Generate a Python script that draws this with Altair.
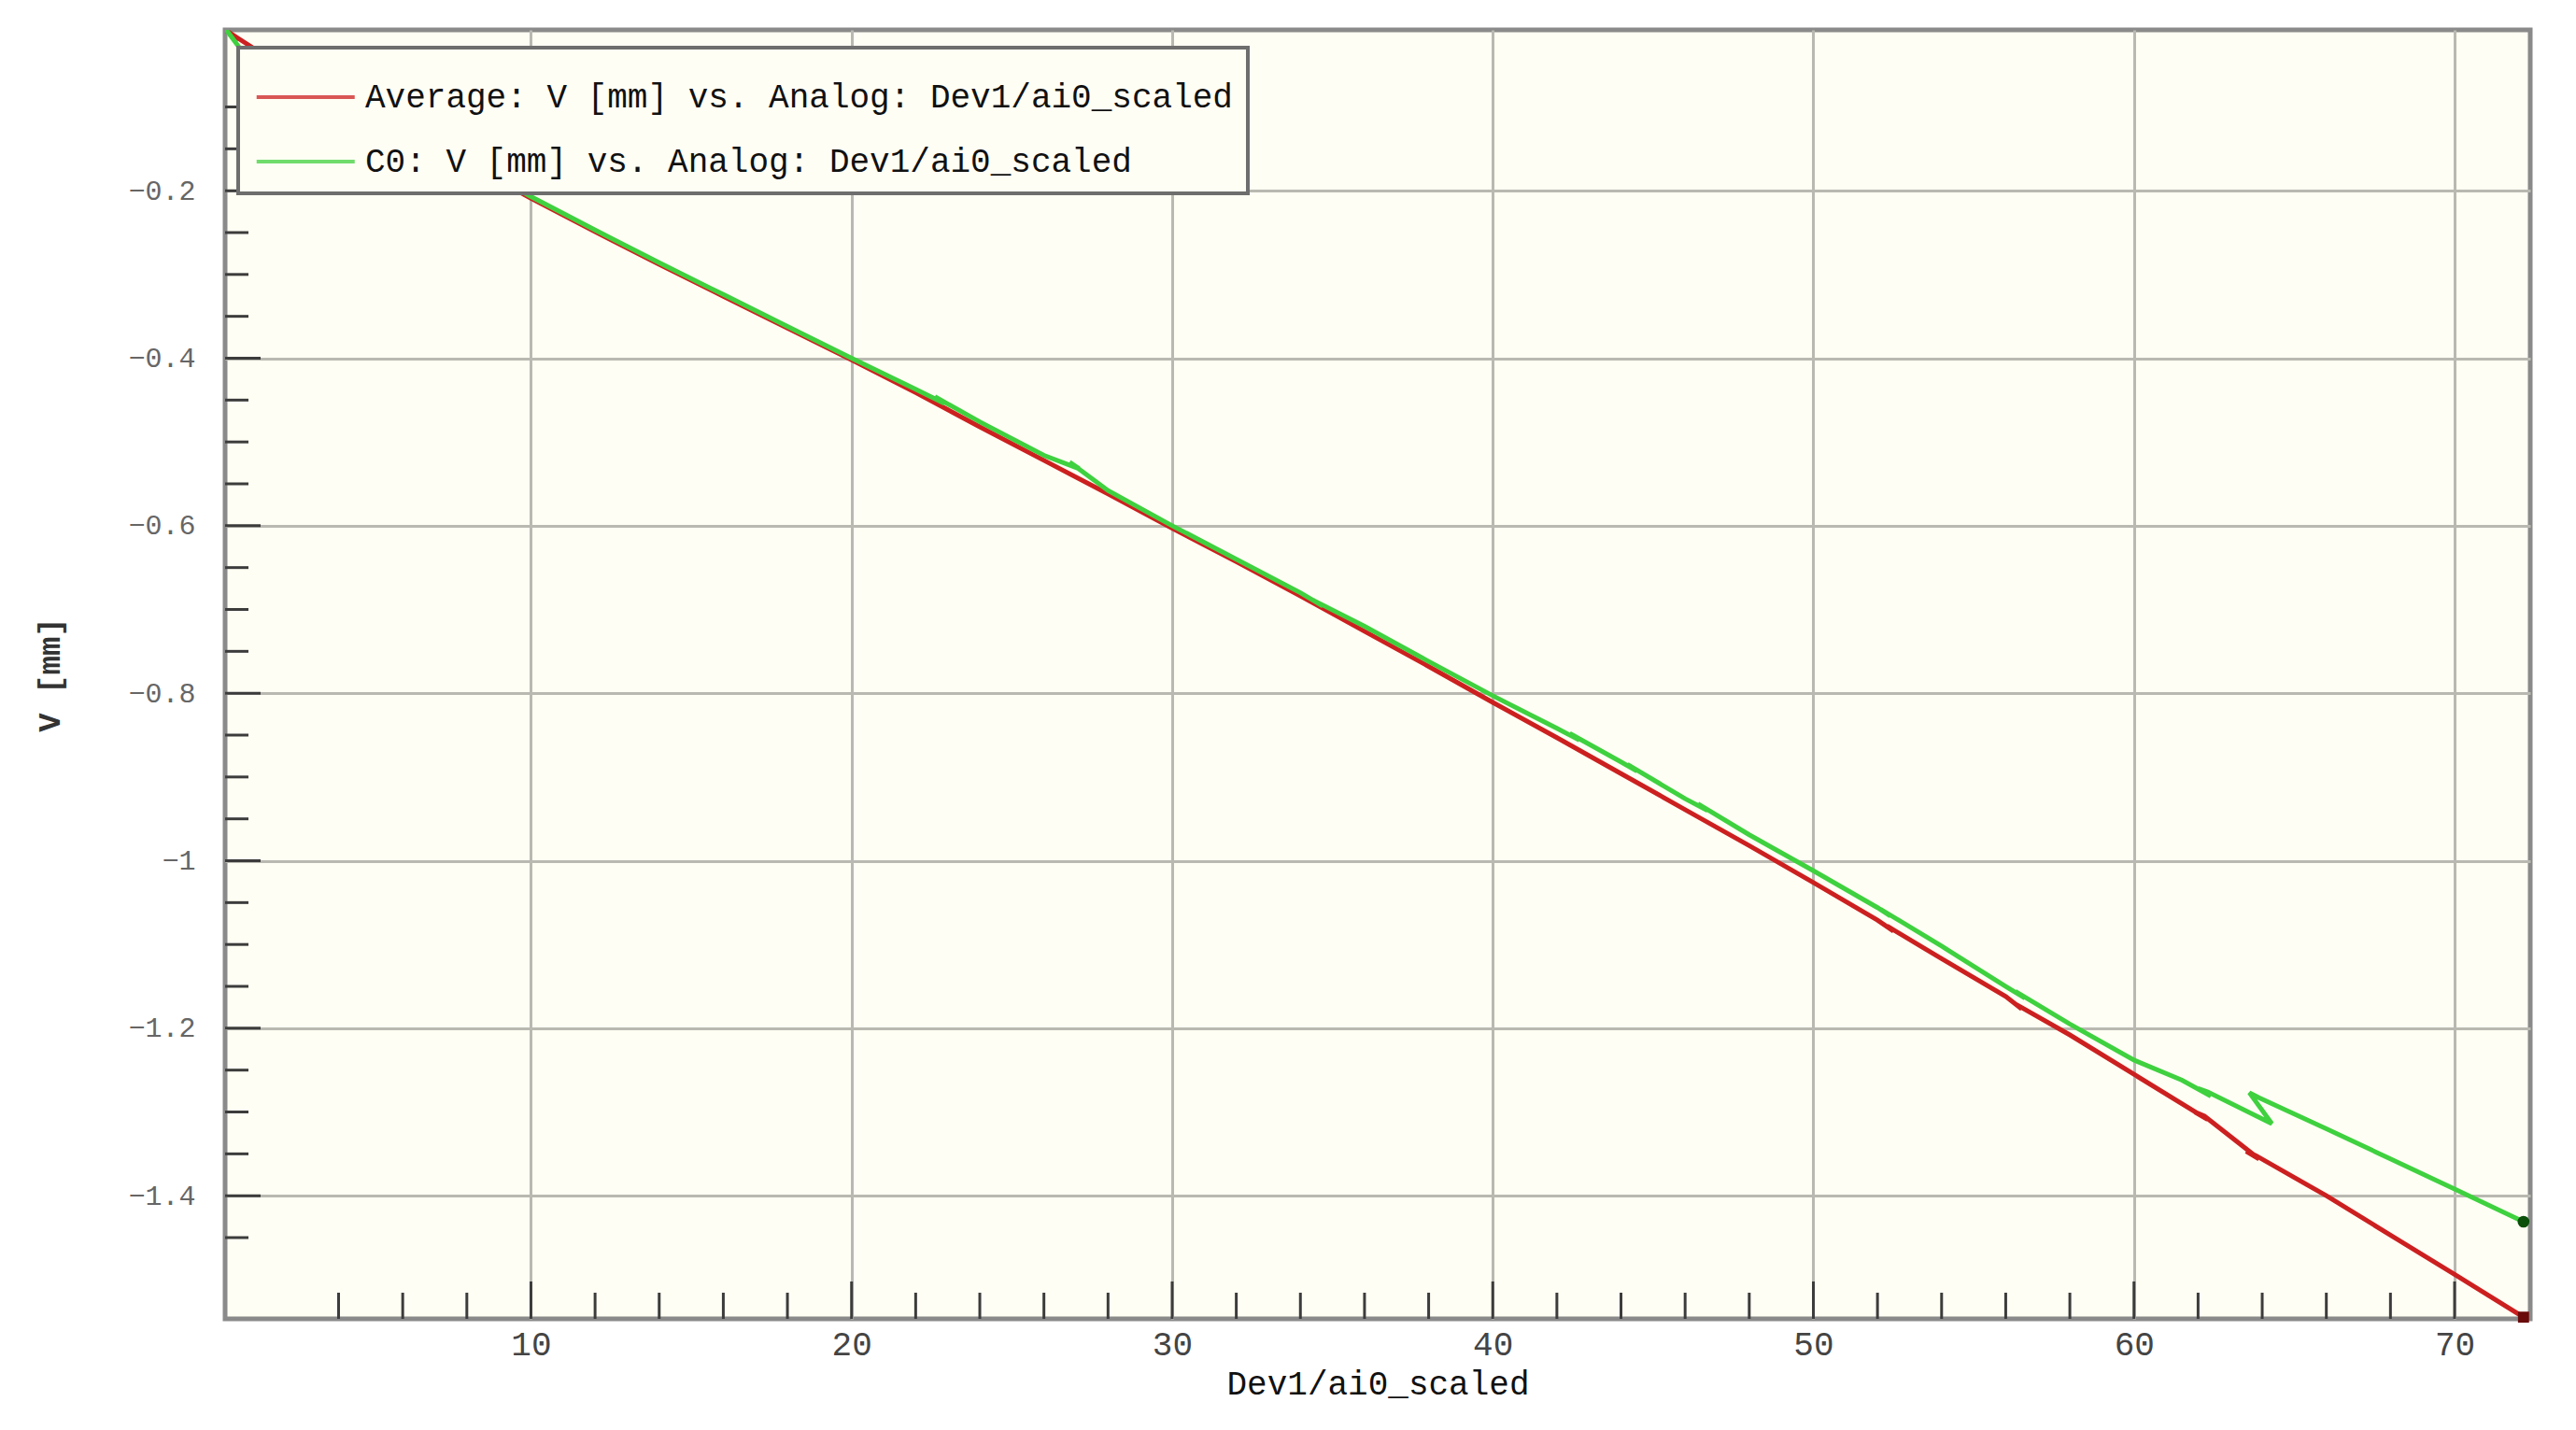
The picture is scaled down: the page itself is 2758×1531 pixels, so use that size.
import altair as alt
import pandas as pd

# ---------------- data ----------------
SERIES_AVG = "Average: V [mm] vs. Analog: Dev1/ai0_scaled"
SERIES_C0 = "C0: V [mm] vs. Analog: Dev1/ai0_scaled"

avg_x = [0.46, 2.0, 4.0, 6.0, 8.0, 10.0, 12.0, 14.0, 16.0, 18.0, 20.0, 22.0, 24.0, 26.0,
         28.0, 30.0, 32.0, 34.0, 36.0, 38.0, 40.0, 42.0, 44.0, 46.0, 48.0, 50.0, 52.0,
         52.5, 52.3, 54.0, 56.0, 56.5, 56.3, 58.0, 60.0, 62.3, 61.9, 62.2, 63.9, 63.5,
         63.8, 66.0, 68.0, 70.0, 72.15]
avg_y = [-0.008, -0.046, -0.086, -0.127, -0.167, -0.209, -0.249, -0.288, -0.326, -0.364,
         -0.402, -0.441, -0.482, -0.522, -0.562, -0.603, -0.643, -0.684, -0.726, -0.768,
         -0.811, -0.853, -0.896, -0.939, -0.982, -1.026, -1.071, -1.084, -1.078, -1.117,
         -1.162, -1.177, -1.171, -1.208, -1.255, -1.309, -1.300, -1.305, -1.356, -1.347,
         -1.352, -1.400, -1.447, -1.494, -1.545]

c0_x = [0.46, 1.5, 1.95, 2.6, 2.95, 3.4, 6.0, 8.0, 10.0, 12.0, 14.0, 16.0, 18.0, 20.0,
        22.0, 22.9, 22.6, 24.0, 26.0, 27.1, 26.8, 28.0, 30.0, 32.0, 34.0, 34.7, 34.4,
        36.0, 38.0, 40.0, 42.0, 42.7, 42.4, 44.0, 44.5, 44.2, 46.0, 46.7, 46.4, 48.0,
        50.0, 52.0, 52.4, 52.1, 54.0, 56.0, 56.6, 56.3, 58.0, 60.0, 61.5, 62.4, 62.0,
        62.3, 64.3, 63.6, 63.9, 66.0, 68.0, 70.0, 72.15]
c0_y = [-0.006, -0.060, -0.051, -0.067, -0.060, -0.084, -0.125, -0.165, -0.207, -0.247,
        -0.286, -0.324, -0.362, -0.400, -0.437, -0.454, -0.446, -0.476, -0.516, -0.532,
        -0.524, -0.558, -0.600, -0.640, -0.680, -0.696, -0.689, -0.720, -0.762, -0.803,
        -0.842, -0.856, -0.848, -0.882, -0.893, -0.885, -0.926, -0.940, -0.932, -0.969,
        -1.012, -1.056, -1.066, -1.058, -1.102, -1.150, -1.164, -1.156, -1.195, -1.238,
        -1.262, -1.281, -1.272, -1.276, -1.314, -1.277, -1.283, -1.320, -1.356, -1.392,
        -1.431]

x_major = [10, 20, 30, 40, 50, 60, 70]
x_minor = [4, 6, 8, 12, 14, 16, 18, 22, 24, 26, 28, 32, 34, 36, 38, 42, 44, 46, 48,
           52, 54, 56, 58, 62, 64, 66, 68]
y_major = [-0.2, -0.4, -0.6, -0.8, -1.0, -1.2, -1.4]
y_minor = [-0.1, -0.15, -0.25, -0.3, -0.35, -0.45, -0.5, -0.55, -0.65, -0.7, -0.75,
           -0.85, -0.9, -0.95, -1.05, -1.1, -1.15, -1.25, -1.3, -1.35, -1.45]

# ---------------- tables ----------------
rows = []
for i, (xv, yv) in enumerate(zip(avg_x, avg_y)):
    rows.append({"x": xv, "V": yv, "series": SERIES_AVG, "idx": i})
for i, (xv, yv) in enumerate(zip(c0_x, c0_y)):
    rows.append({"x": xv, "V": yv, "series": SERIES_C0, "idx": i})
df = pd.DataFrame(rows)

end_avg = pd.DataFrame({"x": [avg_x[-1]], "V": [avg_y[-1]]})
end_c0 = pd.DataFrame({"x": [c0_x[-1]], "V": [c0_y[-1]]})

W, H = 2468, 1380
FONT = "Liberation Mono"

xscale = alt.Scale(domain=[0.46, 72.36], nice=False, zero=False)
yscale = alt.Scale(domain=[-1.547, -0.008], nice=False, zero=False)

xaxis = alt.Axis(values=x_major, grid=True, ticks=False, domain=False,
                 labelFont=FONT, labelFontSize=36, labelColor="#444444",
                 labelPadding=10, title="Dev1/ai0_scaled", titleFont=FONT,
                 titleFontSize=36, titleFontWeight="normal",
                 titleColor="#111111", titleBaseline="middle", titleY=69)
yaxis = alt.Axis(values=y_major, grid=True, ticks=False, domain=False,
                 format=".2~f", labelFont=FONT, labelFontSize=30,
                 labelColor="#666666", labelPadding=32, title="V [mm]",
                 titleFont=FONT, titleFontSize=34, titleFontWeight="bold",
                 titleColor="#333333", titleX=-188, titleY=690,
                 titleAlign="center", titleBaseline="middle")

lines = alt.Chart(df).mark_line(strokeWidth=5, clip=True).encode(
    x=alt.X("x:Q", scale=xscale, axis=xaxis, title="Dev1/ai0_scaled"),
    y=alt.Y("V:Q", scale=yscale, axis=yaxis, title="V [mm]"),
    color=alt.Color("series:N",
                    scale=alt.Scale(domain=[SERIES_AVG, SERIES_C0],
                                    range=["#cc2020", "#3fd13f"]),
                    title=None),
    order=alt.Order("idx:Q"),
)

pt_avg = alt.Chart(end_avg).mark_point(filled=True, shape="square", size=140,
                                       color="#6a0a0a", opacity=1).encode(
    x=alt.X("x:Q", scale=xscale, axis=xaxis, title="Dev1/ai0_scaled"),
    y=alt.Y("V:Q", scale=yscale, axis=yaxis, title="V [mm]"))
pt_c0 = alt.Chart(end_c0).mark_point(filled=True, shape="circle", size=160,
                                     color="#0b4f0b", opacity=1).encode(
    x=alt.X("x:Q", scale=xscale, axis=xaxis, title="Dev1/ai0_scaled"),
    y=alt.Y("V:Q", scale=yscale, axis=yaxis, title="V [mm]"))

tick_color = "#3c3c3c"
ymin_df = pd.DataFrame({"V": y_minor})
ymaj_df = pd.DataFrame({"V": y_major})
xmin_df = pd.DataFrame({"x": x_minor})
xmaj_df = pd.DataFrame({"x": x_major})

ymin_r = alt.Chart(ymin_df).mark_rule(color=tick_color, strokeWidth=3).encode(
    y=alt.Y("V:Q", scale=yscale, axis=yaxis, title="V [mm]"),
    x=alt.value(0), x2=alt.value(25))
ymaj_r = alt.Chart(ymaj_df).mark_rule(color=tick_color, strokeWidth=3).encode(
    y=alt.Y("V:Q", scale=yscale, axis=yaxis, title="V [mm]"),
    x=alt.value(0), x2=alt.value(38))
xmin_r = alt.Chart(xmin_df).mark_rule(color=tick_color, strokeWidth=3).encode(
    x=alt.X("x:Q", scale=xscale, axis=xaxis, title="Dev1/ai0_scaled"),
    y=alt.value(H), y2=alt.value(H - 28))
xmaj_r = alt.Chart(xmaj_df).mark_rule(color=tick_color, strokeWidth=3).encode(
    x=alt.X("x:Q", scale=xscale, axis=xaxis, title="Dev1/ai0_scaled"),
    y=alt.value(H), y2=alt.value(H - 40))

chart = alt.layer(lines, ymin_r, ymaj_r, xmin_r, xmaj_r, pt_avg, pt_c0).properties(
    width=W, height=H,
    autosize=alt.AutoSizeParams(type="none"),
    padding={"left": 233, "top": 24, "right": 40, "bottom": 110},
    background="white",
).configure_view(
    fill="#fffef4", stroke="#8a8a8a", strokeWidth=5,
).configure_axis(
    gridColor="#b9b9b1", gridWidth=3, gridOpacity=1,
).configure_legend(
    orient="none", legendX=14, legendY=19, padding=16,
    symbolType="M-0.95,0H2.05", symbolSize=4900, symbolStrokeWidth=4,
    symbolOpacity=0.75,
    labelFont=FONT, labelFontSize=36, labelColor="#111111", labelOffset=46,
    labelLimit=2000, rowPadding=14,
    fillColor="#fffef4", strokeColor="#6e6e6e", strokeWidth=4,
)

chart.save("out.html", embed_options={"renderer": "svg", "actions": False})
